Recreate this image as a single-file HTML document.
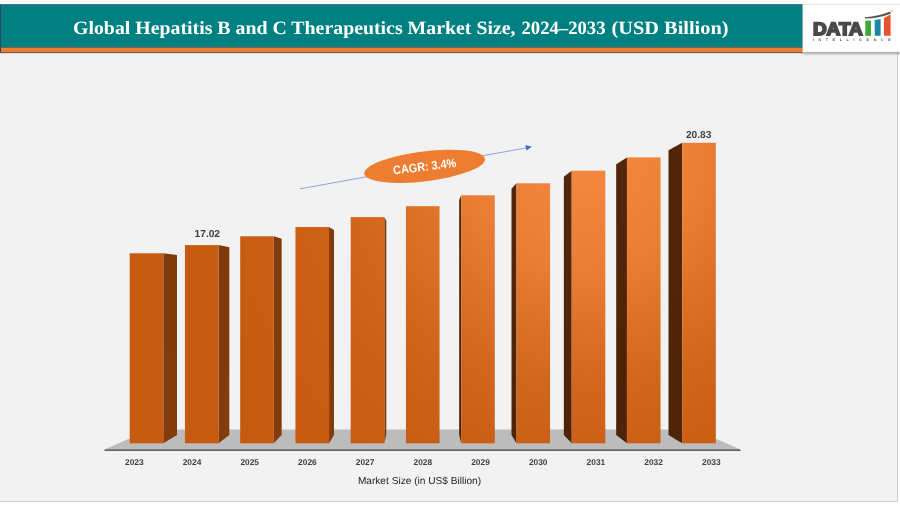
<!DOCTYPE html>
<html><head><meta charset="utf-8"><title>Global Hepatitis B and C Therapeutics Market Size</title>
<style>
html,body{margin:0;padding:0;background:#fff;}
body{width:900px;height:506px;overflow:hidden;position:relative;font-family:"Liberation Sans",sans-serif;}
svg{position:absolute;left:0;top:0;display:block}
text{text-rendering:geometricPrecision}
.title{font-family:"Liberation Serif",serif;font-weight:bold;font-size:18.8px;fill:#fff;text-anchor:middle}
.yr{font-family:"Liberation Sans",sans-serif;font-weight:bold;font-size:8.4px;fill:#404040;text-anchor:middle}
.val{font-family:"Liberation Sans",sans-serif;font-weight:bold;font-size:10.1px;fill:#3c3c3c;text-anchor:middle}
.axt{font-family:"Liberation Sans",sans-serif;font-size:10.15px;fill:#1f1f1f;text-anchor:middle}
.cagr{font-family:"Liberation Sans",sans-serif;font-weight:bold;font-size:12.3px;fill:#fff;text-anchor:middle}
.logo{font-family:"Liberation Sans",sans-serif;font-weight:bold;font-size:18.1px;fill:#4a4a4a;stroke:#4a4a4a;stroke-width:1.8px;stroke-linejoin:miter}
.intel{font-family:"Liberation Sans",sans-serif;font-weight:bold;font-size:3.6px;fill:#555}
</style></head><body>
<svg width="900" height="506" viewBox="0 0 900 506">
<defs>
<radialGradient id="front" gradientUnits="userSpaceOnUse" cx="0" cy="0" r="1" gradientTransform="translate(585 140) scale(400 420)">
<stop offset="0" stop-color="#F2873D"/><stop offset="0.1" stop-color="#F1863C"/><stop offset="0.3" stop-color="#EA7E34"/><stop offset="0.45" stop-color="#DE7128"/><stop offset="0.59" stop-color="#D1661D"/><stop offset="0.75" stop-color="#CB5F16"/><stop offset="1" stop-color="#C65A11"/>
</radialGradient>
<linearGradient id="sideL" x1="0" y1="0" x2="0" y2="1"><stop offset="0" stop-color="#7F3A0B"/><stop offset="1" stop-color="#843C0C"/></linearGradient>
<linearGradient id="sideR" x1="0" y1="0" x2="0" y2="1"><stop offset="0" stop-color="#52260A"/><stop offset="1" stop-color="#4D2407"/></linearGradient>
<filter id="sh" x="-10%" y="-10%" width="120%" height="130%"><feGaussianBlur stdDeviation="1.2"/></filter>
</defs>
<!-- panel -->
<rect x="0" y="0" width="900" height="506" fill="#fff"/>
<rect x="-2" y="50" width="899.5" height="451.5" fill="#F2F2F2" stroke="#CDCDCD" stroke-width="1"/>
<!-- header -->
<rect x="0" y="53" width="897" height="1.1" fill="#FAFAFA"/>
<rect x="0" y="4.2" width="803" height="48.9" fill="#2E4A66"/>
<rect x="1" y="5" width="802" height="42.1" fill="#008080"/>
<rect x="1" y="47.6" width="802" height="4.8" fill="#ED7D31"/>
<rect x="1" y="52.4" width="802" height="0.7" fill="#8A5A3C"/>
<text y="34" class="title" style="text-anchor:start"><tspan x="73" textLength="442.5" lengthAdjust="spacingAndGlyphs">Global Hepatitis B and C Therapeutics Market Size,</tspan><tspan x="521.5" textLength="84" lengthAdjust="spacingAndGlyphs">2024–2033</tspan><tspan x="611.5" textLength="117" lengthAdjust="spacingAndGlyphs">(USD Billion)</tspan></text>
<!-- logo box -->
<rect x="803" y="5" width="98" height="49" fill="#000" opacity="0.35" filter="url(#sh)"/>
<rect x="802.8" y="4.2" width="98" height="47.8" fill="#fff" stroke="#D9D9D9" stroke-width="0.6"/>
<text x="812.9" y="34.9" class="logo" textLength="49.9" lengthAdjust="spacingAndGlyphs">DATA</text>
<rect x="865.3" y="20.6" width="5.7" height="15.2" fill="#3AAA35"/>
<polygon points="874.7,19.9 880.6,19.0 880.6,35.8 874.7,35.8" fill="#1A87A8"/>
<polygon points="883.9,18 890.6,14.4 890.6,35.8 883.9,35.8" fill="#E8522A"/>
<path d="M865,17.2 Q879,16.3 890.1,11.6 L890.7,13.7 Q879,18.2 865,18.6 Z" fill="#555"/>
<circle cx="891.8" cy="11.1" r="0.9" fill="#F5A623"/>
<text x="812.8" y="40.9" class="intel" textLength="77.8" lengthAdjust="spacing">INTELLIGENCE</text>
<!-- floor -->
<polygon points="150,429.5 695,429.5 740.5,449.6 104.5,449.6" fill="#BCBCBC"/>
<polygon points="105.2,449.3 739.8,449.3 741,450.9 104,450.9" fill="#646464"/>
<!-- sides -->
<polygon points="163.30,253.30 177.00,254.97 177.00,434.94 163.30,443.30" fill="url(#sideL)"/>
<polygon points="218.55,245.10 229.33,247.21 229.33,434.94 218.55,443.30" fill="url(#sideL)"/>
<polygon points="273.80,236.30 281.66,238.87 281.66,434.94 273.80,443.30" fill="url(#sideL)"/>
<polygon points="329.05,227.00 334.00,230.06 334.00,434.94 329.05,443.30" fill="url(#sideL)"/>
<polygon points="384.30,217.10 386.33,220.69 386.33,434.94 384.30,443.30" fill="url(#sideL)"/>
<polygon points="461.20,195.30 459.17,200.04 459.17,434.94 461.20,443.30" fill="url(#sideR)"/>
<polygon points="516.45,183.30 511.50,188.67 511.50,434.94 516.45,443.30" fill="url(#sideR)"/>
<polygon points="571.70,170.70 563.84,176.74 563.84,434.94 571.70,443.30" fill="url(#sideR)"/>
<polygon points="626.95,157.40 616.17,164.14 616.17,434.94 626.95,443.30" fill="url(#sideR)"/>
<polygon points="682.20,142.80 668.50,150.31 668.50,434.94 682.20,443.30" fill="url(#sideR)"/>
<!-- fronts -->
<g fill="url(#front)">
<rect x="129.70" y="253.30" width="33.60" height="190.00"/>
<rect x="184.95" y="245.10" width="33.60" height="198.20"/>
<rect x="240.20" y="236.30" width="33.60" height="207.00"/>
<rect x="295.45" y="227.00" width="33.60" height="216.30"/>
<rect x="350.70" y="217.10" width="33.60" height="226.20"/>
<rect x="405.95" y="206.20" width="33.60" height="237.10"/>
<rect x="461.20" y="195.30" width="33.60" height="248.00"/>
<rect x="516.45" y="183.30" width="33.60" height="260.00"/>
<rect x="571.70" y="170.70" width="33.60" height="272.60"/>
<rect x="626.95" y="157.40" width="33.60" height="285.90"/>
<rect x="682.20" y="142.80" width="33.60" height="300.50"/>
</g>
<!-- labels -->
<text x="134.3" y="465.2" class="yr">2023</text>
<text x="192.0" y="465.2" class="yr">2024</text>
<text x="249.7" y="465.2" class="yr">2025</text>
<text x="307.4" y="465.2" class="yr">2026</text>
<text x="365.1" y="465.2" class="yr">2027</text>
<text x="422.8" y="465.2" class="yr">2028</text>
<text x="480.5" y="465.2" class="yr">2029</text>
<text x="538.2" y="465.2" class="yr">2030</text>
<text x="595.9" y="465.2" class="yr">2031</text>
<text x="653.6" y="465.2" class="yr">2032</text>
<text x="711.3" y="465.2" class="yr">2033</text>
<text x="207.3" y="237.4" class="val" textLength="25.4" lengthAdjust="spacingAndGlyphs">17.02</text>
<text x="698.6" y="137.7" class="val" textLength="25.4" lengthAdjust="spacingAndGlyphs">20.83</text>
<text x="419.5" y="484" class="axt">Market Size (in US$ Billion)</text>
<!-- CAGR -->
<line x1="300" y1="188.85" x2="527" y2="147.75" stroke="#4472C4" stroke-width="0.8" opacity="0.75"/>
<polygon points="531.9,146.8 526.4,150.6 525.4,145.1" fill="#3F6BC4"/>
<g transform="translate(424.6 166.3) rotate(-7)">
<ellipse cx="0" cy="0" rx="60.8" ry="15" fill="#ED7D31"/>
<text x="0" y="4.4" class="cagr" textLength="63.5" lengthAdjust="spacingAndGlyphs">CAGR: 3.4%</text>
</g>
</svg>
</body></html>
